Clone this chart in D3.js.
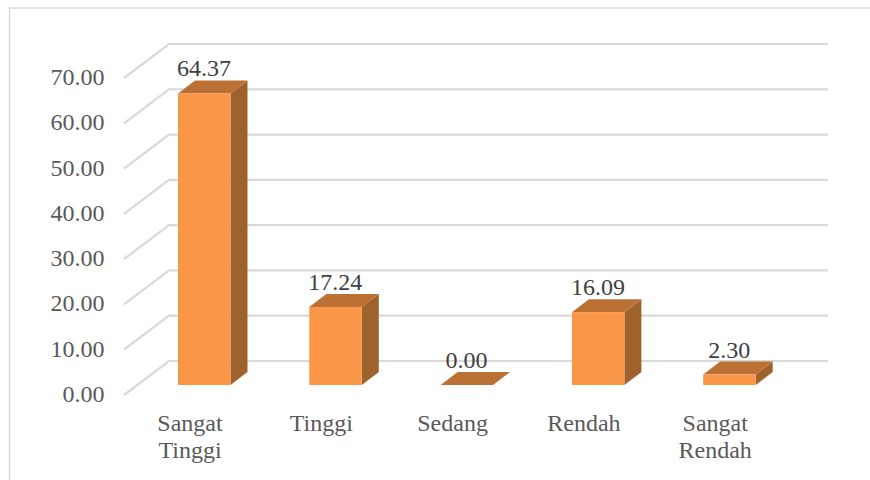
<!DOCTYPE html>
<html><head><meta charset="utf-8">
<script src="https://cdn.jsdelivr.net/npm/d3@7/dist/d3.min.js"></script>
<style>html,body{margin:0;padding:0;background:#fff;overflow:hidden}svg{display:block}text{font-family:"Liberation Serif",serif}</style>
</head><body><svg id="c" width="870" height="480"></svg>
<script>
const categories = [["Sangat","Tinggi"],["Tinggi"],["Sedang"],["Rendah"],["Sangat","Rendah"]];
const values = [64.37,17.24,0.00,16.09,2.30];
const valueLabels = ["64.37","17.24","0.00","16.09","2.30"];
const ticks = [0,10,20,30,40,50,60,70];

const svg = d3.select("#c");
const depthX = 45, depthY = 34;
const y = d3.scaleLinear().domain([0,70]).range([395,78]);
const bw = 52.5, step = 131.3, x0 = 178;
const barX = i => x0 + i*step;
const base = 385, k = (395-78)/70;
const sideX = 17, sideY = 13;
const fs = 24;

svg.append("path").attr("d","M9.5,480V8H870").attr("fill","none").attr("stroke","#d9d9d9").attr("stroke-width",1.5);

svg.append("g").selectAll("path").data(ticks).join("path")
  .attr("d",d=>`M124,${y(d)}L${124+depthX},${y(d)-depthY}H828`)
  .attr("fill","none").attr("stroke","#d9d9d9").attr("stroke-width",2.2);

svg.append("g").selectAll("text").data(ticks).join("text")
  .attr("x",104.5).attr("y",d=>y(d)+7).attr("text-anchor","end")
  .attr("font-size",fs).attr("fill","#595959").text(d=>d3.format(".2f")(d));

const bars = svg.append("g").selectAll("g").data(values).join("g");
bars.append("path").attr("fill","#a0622d").attr("d",(d,i)=>{
  const r=barX(i)+bw, t=base-d*k;
  return `M${r},${base}L${r+sideX},${base-sideY}V${t-sideY}L${r},${t}Z`;});
bars.append("path").attr("fill","#bb7134").attr("d",(d,i)=>{
  const l=barX(i), t=base-d*k;
  return `M${l},${t}L${l+sideX},${t-sideY}H${l+bw+sideX}L${l+bw},${t}Z`;});
bars.append("rect").attr("fill","#fa9647")
  .attr("x",(d,i)=>barX(i)).attr("width",bw)
  .attr("y",d=>base-d*k).attr("height",d=>d*k);

svg.append("g").selectAll("text").data(values).join("text")
  .attr("x",(d,i)=>barX(i)+26).attr("y",d=>base-d*k-17)
  .attr("text-anchor","middle").attr("font-size",fs).attr("fill","#404040")
  .text((d,i)=>valueLabels[i]);

const cats = svg.append("g").selectAll("text").data(categories).join("text")
  .attr("text-anchor","middle").attr("font-size",fs).attr("fill","#595959");
cats.selectAll("tspan").data((d,i)=>d.map((s,j)=>({s,j,i}))).join("tspan")
  .attr("x",d=>190+d.i*step).attr("y",d=>431+d.j*27).text(d=>d.s);
</script></body></html>
